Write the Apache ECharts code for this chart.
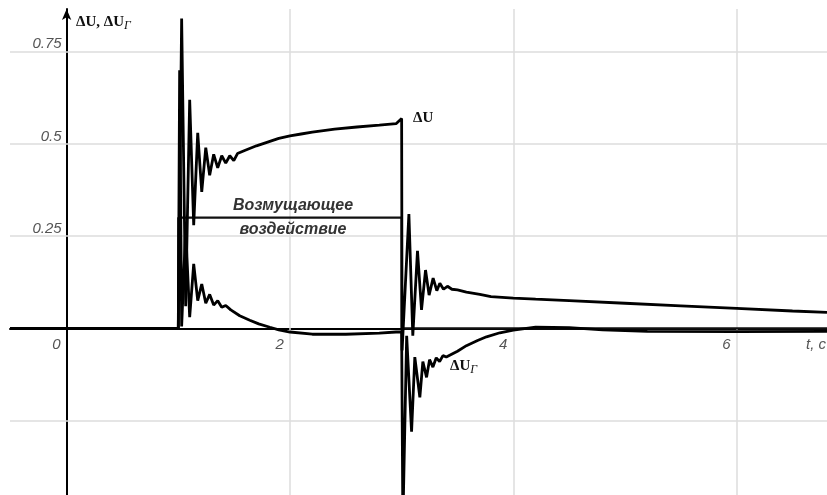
<!DOCTYPE html>
<html><head><meta charset="utf-8">
<script src="https://cdn.jsdelivr.net/npm/echarts@6/dist/echarts.min.js"></script>
<style>html,body{margin:0;padding:0;background:#fff}#c{width:827px;height:495px}</style>
</head><body><div id="c"></div>
<script>
// tick labels and grid positions (data units)
const xTickValues = [0, 2, 4, 6];
const yTickValues = [0.25, 0.5, 0.75];
const xGridValues = [2, 4, 6];
const yGridValues = [-0.25, 0.25, 0.5, 0.75];

// Disturbance (Возмущающее воздействие)
const tP = [-0.507, 1.0, 1.0, 3.0, 3.0, 6.809];
const vP = [0, 0, 0.3, 0.3, 0, 0];

// ΔU
const tU = [-0.507, 1.0, 1.03, 1.066, 1.102, 1.138, 1.174, 1.21, 1.246, 1.281, 1.317, 1.353, 1.389, 1.425, 1.461, 1.497, 1.53,
  1.6, 1.7, 1.8, 1.9, 2.0, 2.1, 2.2, 2.4, 2.6, 2.8, 2.95, 3.0,
  3.004, 3.065, 3.10, 3.142, 3.178, 3.214, 3.246, 3.282, 3.315, 3.342, 3.375, 3.41, 3.45, 3.5, 3.58, 3.7, 3.8, 4.0, 4.2, 4.5, 5.0, 5.5, 6.0, 6.5, 6.809];
const vU = [0, 0, 0.84, 0.06, 0.62, 0.28, 0.53, 0.37, 0.49, 0.415, 0.472, 0.435, 0.468, 0.448, 0.468, 0.455, 0.474,
  0.483, 0.495, 0.505, 0.515, 0.522, 0.527, 0.532, 0.54, 0.546, 0.551, 0.555, 0.569,
  -0.06, 0.31, -0.02, 0.21, 0.05, 0.158, 0.09, 0.136, 0.102, 0.122, 0.106, 0.114, 0.106, 0.104, 0.098, 0.092, 0.086, 0.082, 0.079, 0.075, 0.068, 0.061, 0.054, 0.047, 0.043];

// ΔUГ
const tUG = [-0.507, 1.0, 1.012, 1.03, 1.066, 1.102, 1.138, 1.174, 1.21, 1.246, 1.281, 1.317, 1.353, 1.389, 1.425, 1.47,
  1.55, 1.64, 1.72, 1.82, 1.9, 2.0, 2.2, 2.5, 2.8, 2.95, 3.0,
  3.011, 3.045, 3.089, 3.118, 3.163, 3.19, 3.223, 3.25, 3.28, 3.31, 3.34, 3.37, 3.40, 3.5, 3.58, 3.68, 3.76, 3.88, 4.0, 4.2, 4.5, 4.8, 5.2, 6.0, 6.809];
const vUG = [0, 0, 0.70, 0.005, 0.27, 0.03, 0.175, 0.075, 0.12, 0.068, 0.092, 0.063, 0.075, 0.057, 0.062, 0.05,
  0.034, 0.022, 0.012, 0.003, -0.004, -0.01, -0.016, -0.016, -0.013, -0.01, -0.01,
  -0.53, -0.02, -0.28, -0.078, -0.187, -0.09, -0.133, -0.085, -0.105, -0.08, -0.09, -0.074, -0.078, -0.062, -0.047, -0.033, -0.023, -0.012, -0.005, 0.003, 0.002, -0.004, -0.008, -0.009, -0.008];

const zip = (a, b) => a.map((t, i) => [t, b[i]]);
const tickFont = {fontStyle: 'italic', fontSize: 15, color: '#555', fontFamily: 'Liberation Sans, Arial, sans-serif'};
const serifBold = 'Liberation Serif, Times New Roman, serif';

const W = 827, H = 495;
const G = {left: 10, right: 0, top: 9, bottom: 0};
const xMin = -0.507, xMax = 6.809, yMin = -0.452, yMax = 0.866;
const plotW = W - G.left - G.right, plotH = H - G.top - G.bottom;
// shift axes so that they cross at the origin (labels follow)
const xAxisOffset = -(0 - yMin) / (yMax - yMin) * plotH;
const yAxisOffset = -(0 - xMin) / (xMax - xMin) * plotW;

const chart = echarts.init(document.getElementById('c'), null, {renderer: 'canvas', width: W, height: H});
chart.setOption({
  animation: false,
  backgroundColor: '#fff',
  grid: Object.assign({containLabel: false, outerBoundsMode: 'none'}, G),
  xAxis: {
    type: 'value', min: xMin, max: xMax, position: 'bottom', offset: xAxisOffset,
    splitLine: {show: false}, axisTick: {show: false},
    axisLine: {onZero: false, lineStyle: {color: '#000', width: 2}},
    axisLabel: Object.assign({customValues: xTickValues, formatter: v => String(v), align: 'right', padding: [0, 6, 0, 0], margin: 9}, tickFont)
  },
  yAxis: {
    type: 'value', min: yMin, max: yMax, position: 'left', offset: yAxisOffset,
    splitLine: {show: false}, axisTick: {show: false},
    axisLine: {onZero: false, symbol: ['none', 'arrow'], symbolSize: [7, 11], lineStyle: {color: '#000', width: 2}},
    axisLabel: Object.assign({customValues: yTickValues, formatter: v => String(v), verticalAlign: 'bottom', padding: [0, 0, 0, 0], margin: 5}, tickFont)
  },
  series: [
    {
      type: 'line', data: zip(tP, vP), symbol: 'none', z: 3,
      lineStyle: {color: '#111', width: 2.2},
      markLine: {
        silent: true, symbol: 'none', label: {show: false}, z: 1,
        lineStyle: {color: '#dcdcdc', width: 1.5, type: 'solid'},
        data: [...xGridValues.map(x => ({xAxis: x})), ...yGridValues.map(y => ({yAxis: y}))]
      }
    },
    {type: 'line', data: zip(tUG, vUG), symbol: 'none', z: 4, lineStyle: {color: '#000', width: 2.8}},
    {type: 'line', data: zip(tU, vU), symbol: 'none', z: 5, lineStyle: {color: '#000', width: 2.8}}
  ],
  graphic: [
    {type: 'text', left: 76, top: 15, z: 10, style: {text: '{a|ΔU, ΔU}{s|Г}', rich: {
      a: {font: 'bold 15px ' + serifBold, fill: '#111'},
      s: {font: 'italic 12px ' + serifBold, fill: '#111', padding: [7, 0, 0, 0]}}}},
    {type: 'text', left: 413, top: 111, z: 10, style: {text: 'ΔU', font: 'bold 15px ' + serifBold, fill: '#111'}},
    {type: 'text', left: 450, top: 359, z: 10, style: {text: '{a|ΔU}{s|Г}', rich: {
      a: {font: 'bold 15px ' + serifBold, fill: '#111'},
      s: {font: 'italic 12px ' + serifBold, fill: '#111', padding: [7, 0, 0, 0]}}}},
    {type: 'text', x: 293, y: 206, z: 10, style: {text: 'Возмущающее', font: 'italic bold 16px Liberation Sans, Arial, sans-serif', fill: '#333', align: 'center', verticalAlign: 'middle'}},
    {type: 'text', x: 293, y: 230, z: 10, style: {text: 'воздействие', font: 'italic bold 16px Liberation Sans, Arial, sans-serif', fill: '#333', align: 'center', verticalAlign: 'middle'}},
    {type: 'text', x: 816, y: 345, z: 10, style: {text: 't, c', font: 'italic 15px Liberation Sans, Arial, sans-serif', fill: '#555', align: 'center', verticalAlign: 'middle'}}
  ]
});
</script>
</body></html>
